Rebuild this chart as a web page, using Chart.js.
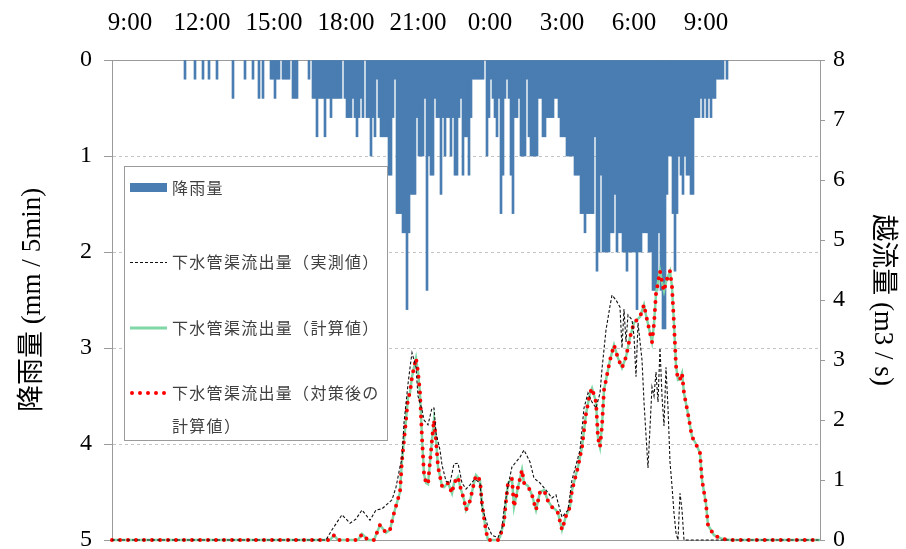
<!DOCTYPE html>
<html lang="ja">
<head>
<meta charset="utf-8">
<title>降雨量と下水管渠流出量</title>
<script src="https://cdn.jsdelivr.net/npm/chart.js@4.4.1/dist/chart.umd.min.js"></script>
<style>
  html, body { margin: 0; padding: 0; background: #fff; }
  #wrap { width: 906px; height: 549px; }
</style>
</head>
<body>
<div id="wrap"><canvas id="grafico" width="906" height="549"></canvas></div>
<script>
/* ═══════════════════════════════════════════
   降雨量 と 下水管渠流出量 — 時系列グラフ
═══════════════════════════════════════════ */

// ── 横軸（9:00 からの経過分）──────────────────
const timeTickMin    = [0, 180, 360, 540, 720, 900, 1080, 1260, 1440];
const timeTickLabels = ['9:00', '12:00', '15:00', '18:00', '21:00', '0:00', '3:00', '6:00', '9:00'];
const axisStartMin   = -45;
const axisEndMin     = 1725;

// ── 降雨量 (mm / 5min)、9:00 から 5 分ごと ─────
const rainfall = [
    0, 0, 0, 0, 0, 0, 0, 0, 0, 0,
    0, 0, 0, 0, 0, 0, 0, 0, 0, 0,
    0, 0, 0, 0, 0, 0, 0, 0.2, 0, 0,
    0, 0, 0.2, 0, 0, 0, 0.2, 0, 0, 0.2,
    0, 0, 0, 0.2, 0, 0, 0, 0, 0, 0,
    0, 0.4, 0, 0, 0, 0, 0, 0.2, 0, 0,
    0, 0.2, 0, 0, 0.4, 0, 0.4, 0, 0, 0,
    0.2, 0.2, 0.4, 0.2, 0.2, 0, 0.2, 0.2, 0.2, 0.2,
    0, 0.4, 0.4, 0.4, 0, 0, 0, 0, 0, 0.2,
    0, 0.4, 0.4, 0.8, 0.4, 0.4, 0.4, 0.8, 0.4, 0.4,
    0.6, 0.4, 0.4, 0.4, 0.4, 0.4, 0, 0.4, 0.6, 0.6,
    0.6, 0.4, 0.6, 0.8, 0.6, 0.4, 0.6, 0, 0.6, 0.6,
    1.0, 0.6, 0.8, 0.2, 0.6, 0.8, 0.8, 0.8, 0.8, 1.2,
    1.2, 0.6, 0.2, 1.6, 1.6, 1.6, 1.8, 1.8, 2.6, 1.8,
    1.4, 1.4, 1.4, 0.6, 1.0, 1.0, 1.0, 0.4, 2.4, 1.0,
    1.2, 1.2, 0.4, 0.6, 0.6, 1.4, 0.6, 1.0, 0.6, 0.6,
    1.0, 0.6, 1.2, 1.2, 0.6, 0.4, 1.2, 0.8, 0.8, 1.2,
    0.6, 0.2, 0.2, 0.2, 0.2, 0.2, 0.2, 0, 1.0, 0.6,
    0.2, 0.4, 0.6, 0.8, 0.4, 1.6, 1.2, 0.4, 0.2, 0.4,
    1.2, 1.6, 0.6, 0.6, 0.4, 1.0, 1.0, 1.0, 0.2, 0.8,
    1.0, 1.0, 1.0, 1.0, 0.4, 0.4, 0.8, 0.8, 0.6, 0.6,
    0.6, 0.6, 0.4, 0.4, 0.6, 0.8, 0.8, 0.8, 1.0, 1.0,
    1.0, 1.0, 1.2, 1.2, 1.2, 1.6, 1.6, 1.8, 1.6, 1.6,
    1.6, 1.6, 0.8, 2.2, 2.0, 1.2, 2.0, 2.0, 2.0, 2.0,
    1.8, 1.8, 1.4, 2.0, 1.8, 1.8, 2.0, 2.0, 2.2, 2.0,
    2.0, 2.0, 2.0, 2.6, 2.0, 2.0, 1.8, 1.8, 1.8, 2.0,
    2.0, 2.4, 2.4, 2.4, 1.8, 2.4, 2.8, 2.8, 1.4, 1.0,
    1.0, 1.6, 2.2, 1.6, 1.0, 1.2, 1.4, 1.0, 1.2, 1.2,
    1.4, 1.4, 0.6, 0.6, 0.6, 0.4, 0.6, 0.4, 0.6, 0.4,
    0.6, 0.4, 0.4, 0.2, 0.2, 0.2, 0.2, 0, 0.2
];

// ── 下水管渠流出量（実測値）m3/s ───────────────
const measuredMin = [
    -45, 490, 505, 530, 550, 565, 580, 600, 615, 630,
    640, 655, 665, 675, 680, 685, 695, 700, 705, 715,
    720, 730, 735, 745, 755, 760, 765, 775, 780, 790,
    800, 810, 820, 830, 840, 850, 860, 865, 875, 880,
    895, 905, 920, 930, 935, 945, 955, 975, 985, 1000,
    1010, 1025, 1040, 1055, 1065, 1075, 1080, 1095, 1105, 1125,
    1135, 1145, 1155, 1165, 1175, 1180, 1190, 1200, 1205, 1215,
    1225, 1230, 1235, 1240, 1245, 1255, 1260, 1265, 1270, 1280,
    1285, 1290, 1295, 1305, 1310, 1315, 1320, 1325, 1330, 1335,
    1340, 1345, 1350, 1355, 1360, 1365, 1370, 1375, 1380, 1385,
    1725
];
const measuredFlow = [
    0, 0, 0.17, 0.42, 0.28, 0.35, 0.5, 0.33, 0.5, 0.52,
    0.58, 0.67, 0.88, 1.22, 1.35, 1.95, 2.6, 2.87, 3.12, 2.88,
    2.4, 2.17, 2.0, 1.92, 2.2, 2.2, 1.78, 1.5, 1.25, 0.98,
    0.95, 1.27, 1.28, 0.95, 0.85, 0.92, 1.0, 1.0, 0.95, 0.55,
    0.22, 0.08, 0.04, 0.2, 0.5, 0.9, 1.22, 1.38, 1.5, 1.3,
    1.03, 0.95, 0.83, 0.7, 0.75, 0.5, 0.38, 0.5, 1.0, 1.5,
    2.2, 2.45, 2.3, 2.2, 2.45, 2.85, 3.5, 3.9, 4.08, 4.0,
    3.88, 3.2, 3.85, 3.3, 3.75, 3.67, 3.4, 2.72, 3.62, 3.0,
    2.3, 1.75, 1.2, 2.55, 2.4, 2.8, 2.3, 3.2, 2.4, 1.9,
    2.88, 2.2, 1.3, 0.9, 0.45, 0.12, 0, 0.78, 0.5, 0,
    0
];

// ── 下水管渠流出量（計算値）m3/s ───────────────
const calcMin = [
    -45, 500, 510, 520, 570, 580, 595, 610, 625, 640,
    650, 660, 675, 680, 690, 695, 700, 705, 715, 720,
    725, 730, 735, 740, 745, 755, 760, 765, 770, 780,
    785, 795, 805, 810, 820, 825, 835, 840, 850, 860,
    865, 875, 880, 890, 895, 920, 925, 935, 940, 945,
    955, 960, 970, 980, 985, 995, 1005, 1015, 1025, 1035,
    1045, 1055, 1065, 1070, 1080, 1090, 1100, 1105, 1120, 1130,
    1140, 1150, 1155, 1165, 1170, 1175, 1180, 1185, 1200, 1210,
    1220, 1230, 1240, 1250, 1260, 1275, 1285, 1290, 1300, 1305,
    1310, 1315, 1325, 1330, 1335, 1340, 1350, 1355, 1360, 1365,
    1370, 1375, 1380, 1385, 1395, 1405, 1415, 1425, 1430, 1440,
    1445, 1460, 1480, 1500, 1725
];
const calcFlow = [
    0, 0, 0.08, 0, 0, 0.1, 0, 0, 0.25, 0.12,
    0.17, 0.45, 0.8, 1.33, 2.0, 2.37, 2.45, 2.72, 3.03, 2.8,
    2.45, 1.7, 1.1, 0.95, 0.93, 1.67, 2.0, 1.67, 1.22, 0.9,
    0.88, 0.95, 0.78, 0.95, 1.05, 0.9, 0.67, 0.5, 0.65, 0.95,
    1.08, 1.0, 0.6, 0.15, 0, 0, 0.05, 0.3, 0.65, 0.95,
    1.02, 0.55, 0.88, 1.17, 0.95, 0.9, 0.75, 0.5, 0.8, 0.83,
    0.65, 0.55, 0.5, 0.45, 0.17, 0.4, 0.55, 0.83, 1.22, 1.55,
    2.1, 2.45, 2.53, 2.3, 1.7, 1.55, 1.9, 2.5, 3.0, 3.25,
    3.03, 2.87, 3.05, 3.38, 3.62, 3.72, 3.92, 3.75, 3.45, 3.3,
    3.6, 4.1, 4.48, 4.3, 4.15, 4.3, 4.48, 4.22, 3.6, 2.9,
    2.67, 2.68, 2.78, 2.45, 2.1, 1.72, 1.6, 1.45, 1.0, 0.6,
    0.25, 0.08, 0.02, 0, 0
];

// ── 対策後の計算値（計算値とほぼ重なる）────────
const afterMin  = calcMin;
const afterFlow = calcFlow.slice();

// ── 色・フォント ────────────────────────────
const COLOR_RAIN  = '#4a7db1';
const COLOR_MEAS  = '#111111';
const COLOR_CALC  = '#80d8a8';
const COLOR_AFTER = '#ff0000';
const COLOR_AXIS  = '#9a9a9a';
const SERIF       = "'Liberation Serif', 'Times New Roman', serif";
const SERIF_JP    = "'Liberation Serif', 'Noto Sans CJK JP', serif";
const SANS_JP     = "'Noto Sans CJK JP', 'Noto Sans', sans-serif";

const pts = (mins, vals) => mins.map((m, i) => ({ x: m, y: vals[i] }));

// ── 枠線（下辺）と凡例 ─────────────────────────
const marcoYLeyenda = {
    id: 'marcoYLeyenda',
    beforeDatasetsDraw(chart) {
        const { ctx, chartArea: a } = chart;
        ctx.save();
        ctx.strokeStyle = COLOR_AXIS;
        ctx.lineWidth = 1;
        ctx.beginPath();
        ctx.moveTo(a.left, Math.round(a.bottom) + 0.5);
        ctx.lineTo(a.right, Math.round(a.bottom) + 0.5);
        ctx.stroke();
        ctx.restore();
    },
    afterDraw(chart) {
        const ctx = chart.ctx;
        ctx.save();
        ctx.fillStyle = '#fff';
        ctx.fillRect(124.5, 166.5, 263, 274);
        ctx.strokeStyle = COLOR_AXIS;
        ctx.lineWidth = 1;
        ctx.strokeRect(124.5, 166.5, 263, 274);

        // 降雨量
        ctx.fillStyle = COLOR_RAIN;
        ctx.fillRect(130, 183, 37, 9);

        // 実測値
        ctx.strokeStyle = COLOR_MEAS;
        ctx.lineWidth = 1;
        ctx.setLineDash([3, 2]);
        ctx.beginPath(); ctx.moveTo(130, 262.5); ctx.lineTo(167, 262.5); ctx.stroke();

        // 計算値
        ctx.setLineDash([]);
        ctx.strokeStyle = COLOR_CALC;
        ctx.lineWidth = 3;
        ctx.beginPath(); ctx.moveTo(130, 328); ctx.lineTo(167, 328); ctx.stroke();

        // 対策後の計算値
        ctx.strokeStyle = COLOR_AFTER;
        ctx.lineWidth = 4;
        ctx.lineCap = 'round';
        ctx.setLineDash([0, 8]);
        ctx.beginPath(); ctx.moveTo(132, 393); ctx.lineTo(167, 393); ctx.stroke();
        ctx.setLineDash([]);

        ctx.fillStyle = '#404040';
        ctx.font = '16px ' + SANS_JP;
        ctx.letterSpacing = '1.3px';
        ctx.textBaseline = 'middle';
        ctx.textAlign = 'left';
        ctx.fillText('降雨量', 172, 188);
        ctx.fillText('下水管渠流出量（実測値）', 172, 262);
        ctx.fillText('下水管渠流出量（計算値）', 172, 328);
        ctx.fillText('下水管渠流出量（対策後の', 172, 393);
        ctx.fillText('計算値）', 172, 426);
        ctx.restore();
    }
};

new Chart(document.getElementById('grafico'), {
    data: {
        datasets: [
            {
                type: 'line',
                label: '下水管渠流出量（実測値）',
                data: pts(measuredMin, measuredFlow),
                xAxisID: 'x',
                yAxisID: 'yFlow',
                borderColor: COLOR_MEAS,
                borderWidth: 1.1,
                borderDash: [3, 2],
                pointRadius: 0,
                tension: 0,
                clip: 6,
                order: 1
            },
            {
                type: 'line',
                label: '下水管渠流出量（対策後の計算値）',
                data: pts(afterMin, afterFlow),
                xAxisID: 'x',
                yAxisID: 'yFlow',
                borderColor: COLOR_AFTER,
                borderWidth: 4,
                borderDash: [0, 8],
                borderCapStyle: 'round',
                pointRadius: 0,
                tension: 0,
                clip: 6,
                order: 2
            },
            {
                type: 'line',
                label: '下水管渠流出量（計算値）',
                data: pts(calcMin, calcFlow),
                xAxisID: 'x',
                yAxisID: 'yFlow',
                borderColor: COLOR_CALC,
                borderWidth: 2.5,
                pointRadius: 0,
                tension: 0,
                clip: 6,
                order: 3
            },
            {
                type: 'bar',
                label: '降雨量',
                // 0 mm の区間は描かない
                data: rainfall.map((v, i) => ({ x: i * 5 + 2.5, y: v })).filter(p => p.y > 0),
                xAxisID: 'x',
                yAxisID: 'yRain',
                backgroundColor: COLOR_RAIN,
                borderWidth: 0,
                barPercentage: 1,
                categoryPercentage: 1,
                order: 4
            }
        ]
    },
    options: {
        responsive: false,
        animation: false,
        devicePixelRatio: 1,
        layout: { padding: { top: 0, left: 0, right: 0, bottom: 9 } },
        plugins: {
            legend:  { display: false },
            tooltip: { enabled: false }
        },
        scales: {
            x: {
                type: 'linear',
                position: 'top',
                offset: false,
                min: axisStartMin,
                max: axisEndMin,
                afterBuildTicks: s => { s.ticks = timeTickMin.map(v => ({ value: v })); },
                afterFit: s => { s.height = 60; s.paddingLeft = 0; s.paddingRight = 0; },
                ticks: {
                    autoSkip: false,
                    maxRotation: 0,
                    padding: 22,
                    color: '#000',
                    font: { family: SERIF, size: 25 },
                    callback: (v, i) => timeTickLabels[i]
                },
                grid:   { display: false, drawTicks: false, offset: false },
                border: { display: true, color: COLOR_AXIS }
            },
            yRain: {
                type: 'linear',
                position: 'left',
                reverse: true,
                min: 0,
                max: 5,
                afterFit: s => { s.width = 112; s.paddingTop = 0; s.paddingBottom = 0; },
                ticks: {
                    stepSize: 1,
                    padding: 12,
                    color: '#000',
                    font: { family: SERIF, size: 24 }
                },
                grid: {
                    color: c => (c.tick && (c.tick.value === 0 || c.tick.value === 5)) ? 'rgba(0,0,0,0)' : '#c4c4c4',
                    tickColor: COLOR_AXIS,
                    tickLength: 8,
                    tickBorderDash: []
                },
                border: { color: COLOR_AXIS, dash: [3, 3] },
                title: {
                    display: true,
                    text: '降雨量 (mm / 5min)',
                    color: '#000',
                    font: { family: SERIF_JP, size: 27 },
                    padding: { top: 17, bottom: 0 }
                }
            },
            yFlow: {
                type: 'linear',
                position: 'right',
                min: 0,
                max: 8,
                afterFit: s => { s.width = 86; s.paddingTop = 0; s.paddingBottom = 0; },
                ticks: {
                    stepSize: 1,
                    padding: 8,
                    color: '#000',
                    font: { family: SERIF, size: 24 }
                },
                grid: {
                    drawOnChartArea: false,
                    tickColor: COLOR_AXIS,
                    tickLength: 5
                },
                border: { color: COLOR_AXIS },
                title: {
                    display: true,
                    text: '越流量 (m3 / s)',
                    color: '#000',
                    font: { family: SERIF_JP, size: 27 },
                    padding: { top: 8, bottom: 0 }
                }
            }
        }
    },
    plugins: [marcoYLeyenda]
});
</script>
</body>
</html>
